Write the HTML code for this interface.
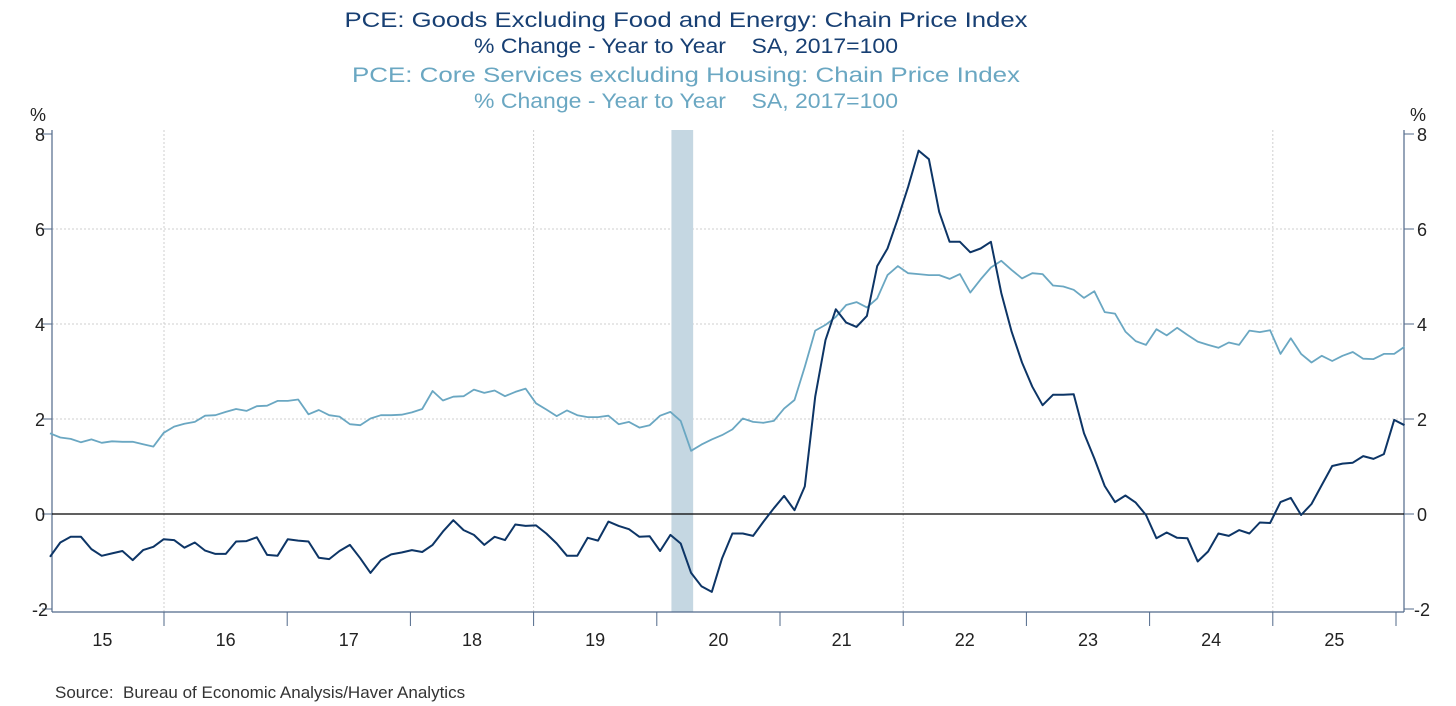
<!DOCTYPE html>
<html><head><meta charset="utf-8"><style>
html,body{margin:0;padding:0;background:#fff;}
svg{display:block;font-family:"Liberation Sans",sans-serif;}
</style></head><body>
<svg id="chart" width="1456" height="706" viewBox="0 0 1456 706" xmlns="http://www.w3.org/2000/svg">
<g font-size="21" text-anchor="middle">
<text x="686" y="27" fill="#173f73" textLength="683" lengthAdjust="spacingAndGlyphs">PCE: Goods Excluding Food and Energy: Chain Price Index</text>
<text x="686" y="53" fill="#173f73" xml:space="preserve" textLength="424" lengthAdjust="spacingAndGlyphs">% Change - Year to Year    SA, 2017=100</text>
<text x="686" y="82" fill="#6aa7c2" textLength="668" lengthAdjust="spacingAndGlyphs">PCE: Core Services excluding Housing: Chain Price Index</text>
<text x="686" y="108" fill="#6aa7c2" xml:space="preserve" textLength="424" lengthAdjust="spacingAndGlyphs">% Change - Year to Year    SA, 2017=100</text>
</g>
<g id="grid"></g>
<rect id="recession" fill="#c5d7e2"></rect>
<g id="axes"></g>
<path id="lineServices" fill="none" stroke="#6aa7c2" stroke-width="1.8" stroke-linejoin="round"></path>
<path id="lineGoods" fill="none" stroke="#0d3566" stroke-width="2" stroke-linejoin="round"></path>
<text x="55" y="698" font-size="17" fill="#333" xml:space="preserve">Source:  Bureau of Economic Analysis/Haver Analytics</text>
</svg>
<script>
const yTicks = [-2, 0, 2, 4, 6, 8];
const yearLabels = ["15","16","17","18","19","20","21","22","23","24","25"];
const goods = [-0.90,-0.60,-0.48,-0.48,-0.74,-0.88,-0.83,-0.78,-0.97,-0.76,-0.69,-0.53,-0.55,-0.71,-0.60,-0.77,-0.84,-0.84,-0.58,-0.57,-0.49,-0.86,-0.88,-0.53,-0.56,-0.58,-0.92,-0.95,-0.78,-0.65,-0.93,-1.24,-0.97,
-0.85,-0.81,-0.76,-0.80,-0.65,-0.37,-0.13,-0.34,-0.44,-0.65,-0.48,-0.55,-0.22,-0.25,-0.24,-0.41,-0.62,-0.88,-0.88,-0.50,-0.56,-0.16,-0.25,-0.32,-0.48,-0.47,-0.78,-0.44,-0.62,-1.24,-1.52,-1.64,
-0.93,-0.41,-0.41,-0.46,-0.16,0.12,0.38,0.08,0.58,2.47,3.66,4.31,4.03,3.94,4.17,5.22,5.59,6.22,6.89,7.65,7.47,6.36,5.73,5.73,5.51,5.59,5.73,4.65,3.84,3.19,2.68,2.29,2.51,2.51,
2.52,1.70,1.17,0.59,0.25,0.39,0.24,-0.02,-0.51,-0.39,-0.50,-0.51,-1.00,-0.79,-0.41,-0.46,-0.34,-0.41,-0.18,-0.19,0.25,0.34,-0.02,0.21,0.61,1.01,1.06,1.08,1.22,1.16,1.26,1.98,1.87];
const services = [1.70,1.61,1.58,1.51,1.57,1.50,1.53,1.52,1.52,1.47,1.42,1.71,1.84,1.90,1.94,2.07,2.08,2.15,2.21,2.17,2.27,2.28,2.38,2.38,2.41,2.10,2.19,2.08,2.05,1.89,1.87,2.01,2.08,
2.08,2.09,2.14,2.21,2.59,2.39,2.47,2.48,2.62,2.55,2.60,2.48,2.57,2.64,2.33,2.20,2.06,2.18,2.08,2.04,2.04,2.07,1.89,1.94,1.82,1.87,2.07,2.15,1.96,1.33,1.46,1.57,
1.66,1.78,2.01,1.94,1.92,1.96,2.22,2.40,3.10,3.86,3.98,4.15,4.40,4.46,4.35,4.54,5.03,5.22,5.07,5.05,5.03,5.03,4.95,5.05,4.66,4.94,5.19,5.33,5.14,4.96,5.07,5.05,4.81,4.79,
4.72,4.55,4.69,4.25,4.22,3.84,3.64,3.56,3.89,3.76,3.92,3.77,3.63,3.56,3.50,3.61,3.56,3.86,3.83,3.87,3.37,3.70,3.37,3.19,3.33,3.22,3.33,3.41,3.27,3.26,3.37,3.37,3.52];
const recessionStartIdx = 60.1;
const recessionEndIdx = 62.2;
const firstYear = 2015;

const NS = "http://www.w3.org/2000/svg";
const L = 52, R = 1404, T = 130, B = 612;
function y(v){ return 514 - v * 47.5; }
function xi(i){ return 50 + i * 10.34; }
function xYear(yr){ return 40.8 + (yr - firstYear) * 123.2; }
function mk(tag, attrs, parent){ const e = document.createElementNS(NS, tag); for (const k in attrs) e.setAttribute(k, attrs[k]); parent.appendChild(e); return e; }

const grid = document.getElementById('grid');
const axes = document.getElementById('axes');
yTicks.forEach(v => {
  if (v === 8 || v === -2 || v === 0) return;
  const g = mk('line', {x1:L, x2:R, y1:y(v), y2:y(v), stroke:'#cfcfcf', 'stroke-dasharray':'2,2', 'stroke-width':1}, grid);
  
  
});
[1,4,7,10].forEach(k => {
  const xx = xYear(firstYear + k);
  const g = mk('line', {x1:xx, x2:xx, y1:T, y2:B, stroke:'#cfcfcf', 'stroke-dasharray':'2,2', 'stroke-width':1}, grid);
  
  
});
const rec = document.getElementById('recession');
rec.setAttribute('x', xi(recessionStartIdx)); rec.setAttribute('width', xi(recessionEndIdx) - xi(recessionStartIdx));
rec.setAttribute('y', T); rec.setAttribute('height', B - T);

const axisColor = '#51698a';
let a = mk('line', {x1:L, x2:L, y1:T, y2:B, stroke:axisColor, 'stroke-width':1.2}, axes);
 
a = mk('line', {x1:R, x2:R, y1:T, y2:B, stroke:axisColor, 'stroke-width':1.2}, axes);
 
a = mk('line', {x1:L, x2:R, y1:B, y2:B, stroke:axisColor, 'stroke-width':1.2}, axes);
 
a = mk('line', {x1:L, x2:R, y1:y(0), y2:y(0), stroke:'#000', 'stroke-width':1.2}, axes);
 

yTicks.forEach(v => {
  let t = mk('line', {x1:L-10, x2:L, y1:y(v), y2:y(v), stroke:axisColor, 'stroke-width':1}, axes);
   
  t = mk('line', {x1:R, x2:R+10, y1:y(v), y2:y(v), stroke:axisColor, 'stroke-width':1}, axes);
   
  let lb = mk('text', {x:40, y:y(v)+7, 'font-size':18, fill:'#222', 'text-anchor':'middle'}, axes);
  lb.textContent = v;
   
  lb = mk('text', {x:1422, y:y(v)+7, 'font-size':18, fill:'#222', 'text-anchor':'middle'}, axes);
  lb.textContent = v;
   
});
let pu = mk('text', {x:38, y:121, 'font-size':18, fill:'#222', 'text-anchor':'middle'}, axes);
pu.textContent = '%';  
pu = mk('text', {x:1418, y:121, 'font-size':18, fill:'#222', 'text-anchor':'middle'}, axes);
pu.textContent = '%';  

yearLabels.forEach((lab, k) => {
  const x0 = xYear(firstYear + k);
  if (k > 0) {
    const t = mk('line', {x1:x0, x2:x0, y1:B, y2:B+14, stroke:axisColor, 'stroke-width':1}, axes);
     
  }
  const lb = mk('text', {x:x0 + 61.6, y:646, 'font-size':18, fill:'#222', 'text-anchor':'middle'}, axes);
  lb.textContent = lab;
   
});
const lastTick = xYear(firstYear + yearLabels.length);
const lt = mk('line', {x1:lastTick, x2:lastTick, y1:B, y2:B+14, stroke:axisColor, 'stroke-width':1}, axes);
 

function pathOf(arr){ return arr.map((v,i) => (i ? 'L' : 'M') + xi(i).toFixed(1) + ' ' + y(v).toFixed(1)).join(' '); }
document.getElementById('lineServices').setAttribute('d', pathOf(services));
document.getElementById('lineGoods').setAttribute('d', pathOf(goods));
</script>
</body></html>
